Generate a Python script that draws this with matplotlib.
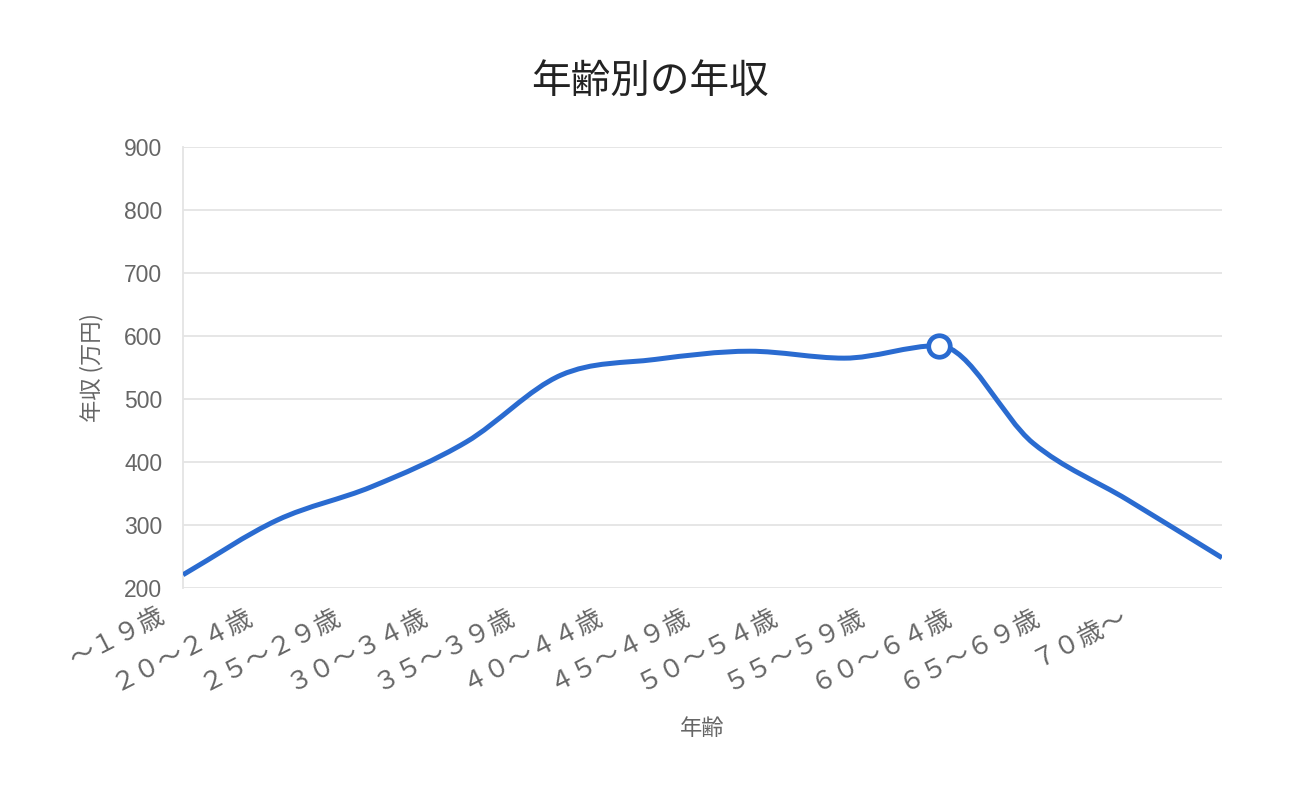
import numpy as np
import matplotlib.pyplot as plt
import matplotlib.transforms as mtransforms
from matplotlib.path import Path
from matplotlib.patches import PathPatch

plt.rcParams['font.family'] = ['Noto Sans CJK JP', 'DejaVu Sans']

# Age groups and annual income (10k yen)
age_labels = ['～１９歳', '２０～２４歳', '２５～２９歳', '３０～３４歳', '３５～３９歳',
              '４０～４４歳', '４５～４９歳', '５０～５４歳', '５５～５９歳', '６０～６４歳',
              '６５～６９歳', '７０歳～']
income = [221, 308, 361, 432, 538, 563, 576, 565, 585, 430, 340, 248]
highlight_idx = 8

title = '年齢別の年収'
x_title = '年齢'
y_title = '年収 (万円)'
y_ticks = [200, 300, 400, 500, 600, 700, 800, 900]

line_color = '#2a6bd0'
grid_color = '#e4e4e4'
text_color = '#666666'


def smooth_path(xs, ys):
    # cubic bezier through the points, flat tangent at local extremes
    n = len(xs)
    m = []
    for i in range(n):
        if i == 0:
            t = ys[1] - ys[0]
        elif i == n - 1:
            t = ys[-1] - ys[-2]
        else:
            a = ys[i] - ys[i - 1]
            b = ys[i + 1] - ys[i]
            t = 0.0 if a * b <= 0 else (ys[i + 1] - ys[i - 1]) / 2
        m.append(t)
    verts = [(xs[0], ys[0])]
    codes = [Path.MOVETO]
    for i in range(n - 1):
        dx = xs[i + 1] - xs[i]
        verts += [(xs[i] + dx / 3, ys[i] + m[i] / 3),
                  (xs[i + 1] - dx / 3, ys[i + 1] - m[i + 1] / 3),
                  (xs[i + 1], ys[i + 1])]
        codes += [Path.CURVE4] * 3
    return Path(verts, codes)


fig = plt.figure(figsize=(13, 8), dpi=100)
ax = fig.add_axes([0.1408, 0.265, 0.7992, 0.551])

x = np.arange(len(income))
ax.add_patch(PathPatch(smooth_path(x, income), facecolor='none', edgecolor=line_color,
                       lw=3.6, capstyle='butt', zorder=3))
ax.plot(x[highlight_idx], income[highlight_idx], 'o', ms=15.5, mfc='white',
        mec=line_color, mew=3.4, zorder=4)

ax.set_xlim(0, len(income) - 1)
ax.set_ylim(200, 900)
ax.set_yticks(y_ticks)
ax.set_xticks([])
for lab in ax.get_yticklabels():
    lab.set_fontfamily(['Liberation Sans', 'DejaVu Sans'])
    lab.set_fontsize(16.5)
    lab.set_color(text_color)

# slanted category labels, spaced a bit tighter than the points
label_step = 0.926
label_off = -0.27
trans = mtransforms.blended_transform_factory(ax.transData, ax.transAxes)
trans = trans + mtransforms.ScaledTranslation(0, -15 / 100, fig.dpi_scale_trans)
for k, lab in enumerate(age_labels):
    ax.text(label_off + k * label_step, 0, lab, transform=trans, rotation=27,
            rotation_mode='anchor', ha='right', va='top', fontsize=18.5,
            color=text_color, clip_on=False)

ax.grid(axis='y', color=grid_color, lw=1.3)
ax.tick_params(axis='y', length=0, pad=15)
for s in ['top', 'right', 'bottom']:
    ax.spines[s].set_visible(False)
ax.spines['left'].set_color(grid_color)
ax.spines['left'].set_linewidth(1.3)

ax.set_xlabel(x_title, fontsize=16, color=text_color)
ax.xaxis.set_label_coords(0.5, -0.293)
ax.set_ylabel(y_title, fontsize=16, color=text_color, labelpad=15)
fig.text(0.5, 0.898, title, ha='center', va='center', fontsize=28.5, color='#222222')

fig.savefig('out.png', dpi=100, facecolor='white')
